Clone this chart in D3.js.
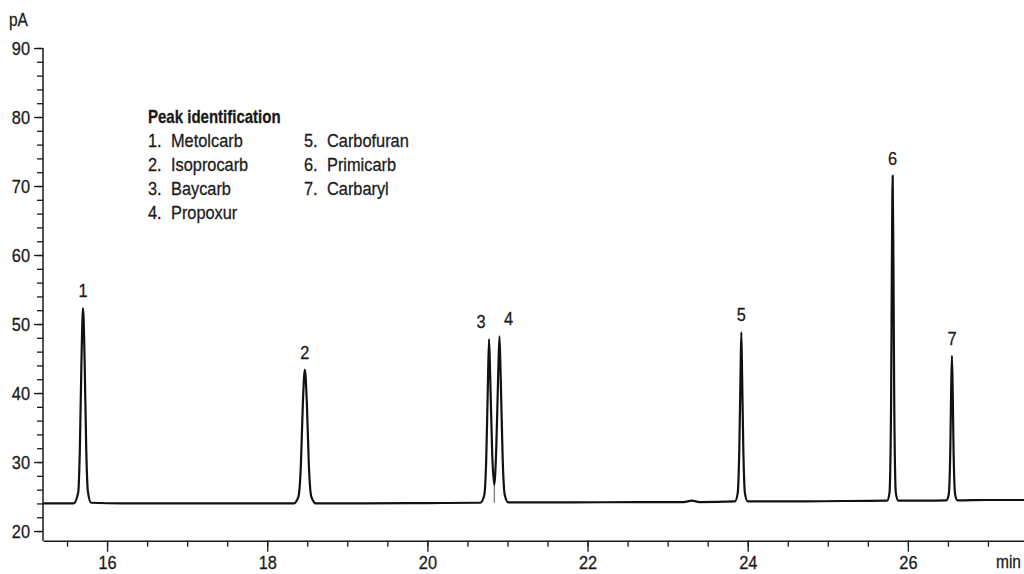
<!DOCTYPE html>
<html>
<head>
<meta charset="utf-8">
<script src="https://cdn.jsdelivr.net/npm/d3@7"></script>
<style>
  body { margin: 0; background: #fff; }
  text { font-family: "Liberation Sans", Arial, sans-serif; fill: #1a1a1a; stroke: #1a1a1a; stroke-width: 0.3px; }
</style>
</head>
<body>
<script>
// chromatogram trace (min, pA)
var traceTime = [
  15.2, 15.4, 15.58, 15.64, 15.66, 15.68, 15.70, 15.72, 15.74, 15.76, 15.80, 16.2, 17.0, 17.8,
  18.33, 18.39, 18.42, 18.445, 18.47, 18.495, 18.52, 18.55, 18.61, 19.2, 20.0,
  20.66, 20.71, 20.735, 20.755, 20.77, 20.785, 20.81, 20.835, 20.86, 20.885, 20.90, 20.915, 20.94, 20.965, 21.01,
  21.8, 22.6, 23.2, 23.3, 23.4,
  23.84, 23.875, 23.895, 23.91, 23.92, 23.93, 23.945, 23.965, 24.0,
  24.6, 25.2, 25.74, 25.77, 25.79, 25.80, 25.81, 25.82, 25.83, 25.85, 25.88,
  26.2, 26.48, 26.51, 26.53, 26.54, 26.55, 26.56, 26.57, 26.59, 26.62, 27.0, 27.45
];
var traceSignal = [
  24.0, 24.0, 24.0, 25.6, 31.8, 44.5, 52.3, 44.5, 31.8, 25.8, 24.1, 24.0, 24.0, 24.0,
  24.0, 25.0, 29.5, 38.5, 43.4, 38.5, 29.5, 25.0, 24.0, 24.0, 24.05,
  24.1, 25.2, 30.5, 41.0, 47.8, 42.0, 31.0, 26.7, 32.0, 43.0, 48.2, 42.5, 30.5, 25.3, 24.15,
  24.15, 24.2, 24.2, 24.4, 24.2,
  24.3, 25.5, 32.0, 42.5, 48.8, 42.5, 32.0, 25.5, 24.3,
  24.3, 24.35, 24.4, 25.5, 38.0, 58.0, 71.5, 58.0, 38.0, 25.5, 24.4,
  24.4, 24.45, 25.3, 32.0, 40.0, 45.4, 40.0, 32.0, 25.3, 24.45, 24.5, 24.5
];

var peakNumbers = [1, 2, 3, 4, 5, 6, 7];
var peakTimes = [15.70, 18.47, 20.77, 20.90, 23.92, 25.81, 26.55];
var peakHeights = [52.3, 43.4, 47.8, 48.2, 48.8, 71.5, 45.4];
var compounds = ["Metolcarb", "Isoprocarb", "Baycarb", "Propoxur", "Carbofuran", "Primicarb", "Carbaryl"];

// valley between peaks 3 and 4 (drop line)
var valleyTime = 20.835;
var valleyTop = 26.7;
var valleyBase = 24.1;

var xTicks = [16, 18, 20, 22, 24, 26];
var yTicks = [20, 30, 40, 50, 60, 70, 80, 90];

var width = 1024, height = 574;

var svg = d3.select("body").append("svg")
    .attr("width", width)
    .attr("height", height);

var x = d3.scaleLinear().domain([15.2, 27.45]).range([43, 1024]);
var y = d3.scaleLinear().domain([18.6, 90]).range([540.7, 48]);

// y axis: minor ticks every 2 pA, labelled every 10
svg.append("g")
    .attr("transform", "translate(" + x(15.2) + ",0)")
    .call(d3.axisLeft(y).tickValues(d3.range(20, 91, 2)).tickSize(6).tickFormat(""))
    .call(g => g.select(".domain").remove());

var yAxis = svg.append("g")
    .attr("transform", "translate(" + x(15.2) + ",0)")
    .call(d3.axisLeft(y).tickValues(yTicks).tickSize(9).tickSizeOuter(0).tickPadding(4));
yAxis.select(".domain").attr("d", "M0," + y(18.6) + "V" + y(90));

// x axis: minor ticks every 0.5 min
svg.append("g")
    .attr("transform", "translate(0," + y(18.6) + ")")
    .call(d3.axisBottom(x).tickValues(d3.range(15.5, 27.45, 0.5)).tickSize(6).tickFormat(""))
    .call(g => g.select(".domain").remove());

var xAxis = svg.append("g")
    .attr("transform", "translate(0," + y(18.6) + ")")
    .call(d3.axisBottom(x).tickValues(xTicks).tickSize(11).tickSizeOuter(0).tickPadding(4));

svg.selectAll(".domain").attr("stroke", "#1a1a1a").attr("stroke-width", 1.5);
svg.selectAll(".tick line").attr("stroke", "#1a1a1a").attr("stroke-width", 1.3);
svg.selectAll(".tick text").attr("font-size", 19)
    .style("font-family", "'Liberation Sans', Arial, sans-serif")
    .attr("fill", "#1a1a1a");

svg.append("text").attr("x", 9).attr("y", 26).attr("font-size", 18).text("pA");
svg.append("text").attr("x", 1021).attr("y", 568).attr("text-anchor", "end")
    .attr("font-size", 18).text("min");

// drop line at the valley
svg.append("line")
    .attr("x1", x(valleyTime)).attr("x2", x(valleyTime))
    .attr("y1", y(valleyTop)).attr("y2", y(valleyBase))
    .attr("stroke", "#555").attr("stroke-width", 1);

var trace = traceTime.map((t, i) => ({t: t, v: traceSignal[i]}));

var line = d3.line()
    .x(d => x(d.t))
    .y(d => y(d.v))
    .curve(d3.curveMonotoneX);

svg.append("path")
    .datum(trace)
    .attr("fill", "none")
    .attr("stroke", "#111")
    .attr("stroke-width", 2.2)
    .attr("stroke-linejoin", "round")
    .attr("d", line);

// peak numbers
svg.selectAll(".peak-label")
    .data(peakNumbers)
    .enter().append("text")
    .attr("class", "peak-label")
    .attr("x", (d, i) => x(peakTimes[i]) + (d === 3 ? -8 : d === 4 ? 9 : 0))
    .attr("y", (d, i) => y(peakHeights[i]) - 11)
    .attr("text-anchor", "middle")
    .attr("font-size", 19)
    .text(d => d);

// legend
var legend = svg.append("g").attr("transform", "translate(148,123)");
legend.append("text")
    .attr("font-size", 19)
    .attr("font-weight", "bold")
    .text("Peak identification");

legend.selectAll(".entry")
    .data(compounds)
    .enter().append("g")
    .attr("class", "entry")
    .attr("transform", (d, i) => "translate(" + (i < 4 ? 0 : 156) + "," + (24 + (i % 4) * 24) + ")")
    .each(function (d, i) {
        var g = d3.select(this);
        g.append("text").attr("font-size", 19).text(peakNumbers[i] + ".");
        g.append("text").attr("x", 23).attr("font-size", 19).text(d);
    });

// the original uses a condensed face: squeeze every text a little
svg.selectAll("text").each(function () {
    var el = d3.select(this);
    var w = this.getComputedTextLength();
    var k = el.attr("font-weight") === "bold" ? 0.79 : 0.86;
    if (w > 0) {
        el.attr("textLength", w * k).attr("lengthAdjust", "spacingAndGlyphs");
    }
});
</script>
</body>
</html>
